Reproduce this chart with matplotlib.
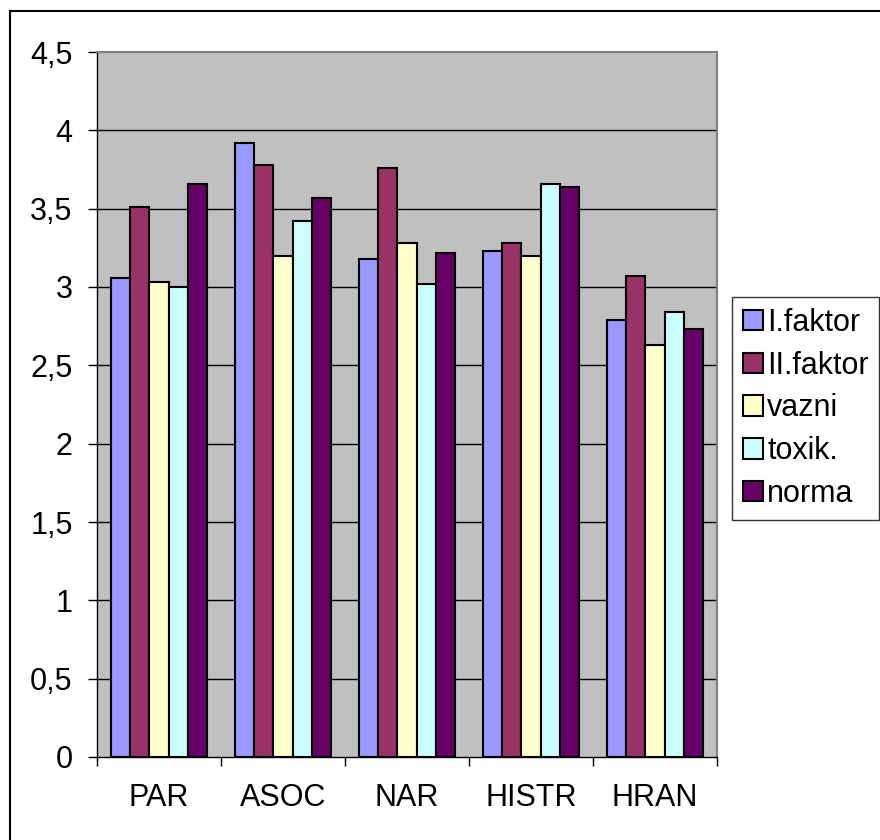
import numpy as np
import matplotlib
matplotlib.use("Agg")
import matplotlib.pyplot as plt
from matplotlib.lines import Line2D

categories = ["PAR", "ASOC", "NAR", "HISTR", "HRAN"]
series_names = ["I.faktor", "II.faktor", "vazni", "toxik.", "norma"]
i_faktor = [3.06, 3.92, 3.18, 3.23, 2.79]
ii_faktor = [3.51, 3.78, 3.76, 3.28, 3.07]
vazni = [3.03, 3.20, 3.28, 3.20, 2.63]
toxik = [3.00, 3.42, 3.02, 3.66, 2.84]
norma = [3.66, 3.57, 3.22, 3.64, 2.73]
y_ticks = [0, 0.5, 1, 1.5, 2, 2.5, 3, 3.5, 4, 4.5]
y_tick_labels = ["0", "0,5", "1", "1,5", "2", "2,5", "3", "3,5", "4", "4,5"]

colors = ["#9999FF", "#993366", "#FFFFCC", "#CCFFFF", "#660066"]
series = [i_faktor, ii_faktor, vazni, toxik, norma]

plt.rcParams["font.family"] = ["Liberation Sans", "DejaVu Sans"]
FS = 22

W, H = 880, 840
fig = plt.figure(figsize=(W / 100, H / 100), dpi=100)
fig.patch.set_facecolor("white")

# outer chart frame (top and left edges visible)
fig.add_artist(Line2D([10 / W, 1.0], [1 - 10.5 / H, 1 - 10.5 / H],
                      transform=fig.transFigure, color="black", lw=1.5))
fig.add_artist(Line2D([10 / W, 10 / W], [0.0, 1 - 10.5 / H],
                      transform=fig.transFigure, color="black", lw=1.5))

left, right, top, bottom = 97, 717, 52, 757
ax = fig.add_axes([left / W, 1 - bottom / H, (right - left) / W, (bottom - top) / H])
ax.set_facecolor("#C0C0C0")

n = len(series)
x = np.arange(len(categories))
group = 5 / 6.5
bw = group / n
for k, (vals, col, name) in enumerate(zip(series, colors, series_names)):
    offs = -group / 2 + bw * (k + 0.5)
    ax.bar(x + offs, vals, width=bw, color=col, edgecolor="black",
           linewidth=1.5, label=name, zorder=3)

ax.set_xlim(-0.5, len(categories) - 0.5)
ax.set_ylim(0, 4.5)
ax.set_yticks(y_ticks)
ax.set_yticklabels(y_tick_labels, fontsize=FS)
for yv in y_ticks[1:-1]:
    ax.axhline(yv, color="black", lw=1, zorder=1)

ax.set_xticks(x)
ax.set_xticklabels(categories, fontsize=FS)
ax.set_xticks(np.arange(len(categories) + 1) - 0.5, minor=True)
ax.tick_params(axis="x", which="major", length=0, pad=19)
ax.tick_params(axis="x", which="minor", length=6.5, width=1, direction="out")
ax.tick_params(axis="y", length=6.5, width=1, direction="out", pad=11)

for s in ["top", "right"]:
    ax.spines[s].set_color("#808080")
    ax.spines[s].set_linewidth(1.5)
for s in ["left", "bottom"]:
    ax.spines[s].set_color("black")
    ax.spines[s].set_linewidth(1)

leg = fig.legend(loc="upper left", bbox_to_anchor=(732 / W, 1 - 297 / H),
                 fontsize=FS, frameon=True, fancybox=False, handlelength=0.65,
                 handleheight=0.65, handletextpad=0.15, labelspacing=0.42,
                 borderpad=0.35, borderaxespad=0)
leg.get_frame().set_edgecolor("black")
leg.get_frame().set_linewidth(1)

fig.savefig("out.png", dpi=100)
